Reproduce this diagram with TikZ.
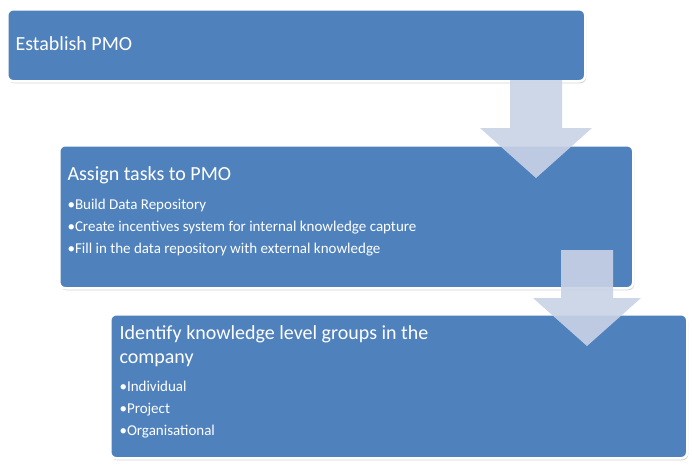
\documentclass[tikz,border=0pt]{standalone}
\usepackage{fontspec}
\setmainfont{Carlito}
\usetikzlibrary{shadows}
\definecolor{boxblue}{HTML}{4F81BD}
\definecolor{arrowblue}{HTML}{C9D3E6}
\tikzset{
  panel/.style={draw=white, line width=2.5pt, fill=boxblue, rounded corners=6pt,
    drop shadow={shadow xshift=1pt, shadow yshift=-2pt, opacity=0.35}},
  downarrow/.style={fill=arrowblue, fill opacity=0.9, draw=none},
  title/.style={text=white, font=\fontsize{20}{24}\selectfont, anchor=north west, align=left},
  bullets/.style={text=white, font=\fontsize{15}{22}\selectfont, anchor=north west, align=left}
}
\begin{document}
\begin{tikzpicture}[x=1pt,y=-1pt]
\useasboundingbox (0,0) rectangle (692,466);
\node[panel, minimum width=578pt, minimum height=72pt, anchor=north west] (b1) at (6,8) {};
\node[title, anchor=west] (t1) at (12,44) {Establish PMO};
\node[panel, minimum width=574pt, minimum height=143pt, anchor=north west] (b2) at (58,144) {};
\node[panel, minimum width=577pt, minimum height=144pt, anchor=north west] (b3) at (109,313) {};
\fill[downarrow] (510,80) -- (562,80) -- (562,128) -- (592,128) -- (536,178) -- (480,128) -- (510,128) -- cycle;
\fill[downarrow] (561,250) -- (613,250) -- (613,298) -- (641,298) -- (587,346) -- (533,298) -- (561,298) -- cycle;
\node[title] (t2) at (64,163) {Assign tasks to PMO};
\node[bullets] (l2) at (64,196) {•Build Data Repository\\•Create incentives system for internal knowledge capture\\•Fill in the data repository with external knowledge};
\node[title] (t3) at (116,322) {Identify knowledge level groups in the\\company};
\node[bullets] (l3) at (116,378) {•Individual\\•Project\\•Organisational};
\end{tikzpicture}
\end{document}
